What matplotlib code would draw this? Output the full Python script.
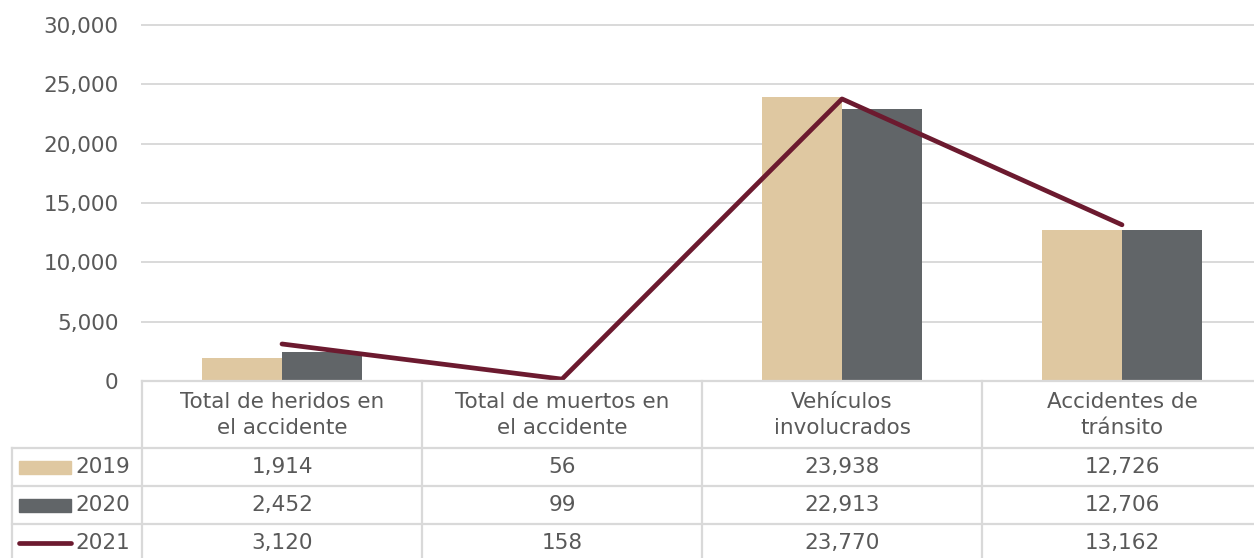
import matplotlib
matplotlib.use("Agg")
import matplotlib.pyplot as plt
from matplotlib.patches import Rectangle
from matplotlib.ticker import FuncFormatter

plt.rcParams["font.family"] = ["DejaVu Sans"]

categories = ["Total de heridos en\nel accidente", "Total de muertos en\nel accidente",
              "Vehículos\ninvolucrados", "Accidentes de\ntránsito"]
years = ["2019", "2020", "2021"]
v2019 = [1914, 56, 23938, 12726]
v2020 = [2452, 99, 22913, 12706]
v2021 = [3120, 158, 23770, 13162]

C_2019 = "#DFC8A1"
C_2020 = "#616568"
C_2021 = "#6C1A2F"
C_TEXT = "#595959"
C_GRID = "#D9D9D9"
FS = 15.5

W, H = 1254, 558
fig = plt.figure(figsize=(W / 100, H / 100), dpi=100)
fig.patch.set_facecolor("white")

# plot area in pixel terms (runs a little past the right edge)
PL, PR, PT, PB = 142, 1262, 25, 381
ax = fig.add_axes([PL / W, (H - PB) / H, (PR - PL) / W, (PB - PT) / H])
ax.set_xlim(-0.5, 3.5)
ax.set_ylim(0, 30000)
ax.set_yticks(range(0, 30001, 5000))
ax.yaxis.set_major_formatter(FuncFormatter(lambda v, p: f"{int(v):,}"))
ax.tick_params(axis="y", length=0, pad=17, labelsize=FS, labelcolor=C_TEXT)
ax.set_xticks([])
for s in ax.spines.values():
    s.set_visible(False)
ax.grid(axis="y", color=C_GRID, lw=1.4)
for gl in ax.get_ygridlines():
    gl.set_clip_on(False)
ax.set_axisbelow(True)

x = list(range(len(categories)))
bw = 80 / 280
ax.bar([i - bw / 2 for i in x], v2019, width=bw, color=C_2019, zorder=2)
ax.bar([i + bw / 2 for i in x], v2020, width=bw, color=C_2020, zorder=2)
ax.plot(x, v2021, color=C_2021, lw=3.4, solid_capstyle="round", zorder=3)

# data table underneath
tb = fig.add_axes([0, 0, 1, 1])
tb.set_xlim(0, W)
tb.set_ylim(H, 0)
tb.axis("off")
tb.patch.set_alpha(0)

col_x = [PL, 422, 702, 982, PR]
row_y = [381, 448, 486, 524, 562]
lk = dict(color=C_GRID, lw=1.6)
tb.plot([PL, PR], [row_y[0], row_y[0]], **lk)
for y in row_y[1:]:
    tb.plot([12, PR], [y, y], **lk)
for cx in col_x[:-1]:
    tb.plot([cx, cx], [row_y[0], H], **lk)
tb.plot([12, 12], [row_y[1], H], **lk)

for j, cat in enumerate(categories):
    cx = (col_x[j] + col_x[j + 1]) / 2
    tb.text(cx, 415, cat, ha="center", va="center",
            fontsize=FS, color=C_TEXT, linespacing=1.4)

rows = [v2019, v2020, v2021]
row_cy = [467, 505, 543]
for r, vals in enumerate(rows):
    cy = row_cy[r]
    for j, v in enumerate(vals):
        cx = (col_x[j] + col_x[j + 1]) / 2
        tb.text(cx, cy, f"{v:,}", ha="center", va="center", fontsize=FS, color=C_TEXT)
    # legend key
    if r < 2:
        tb.add_patch(Rectangle((19, cy - 6), 52, 13, color=[C_2019, C_2020][r]))
    else:
        tb.plot([19, 71], [cy, cy], color=C_2021, lw=3.4, solid_capstyle="round")
    tb.text(75, cy, years[r], ha="left", va="center", fontsize=FS, color=C_TEXT)

fig.savefig("out.png", dpi=100, facecolor="white")
